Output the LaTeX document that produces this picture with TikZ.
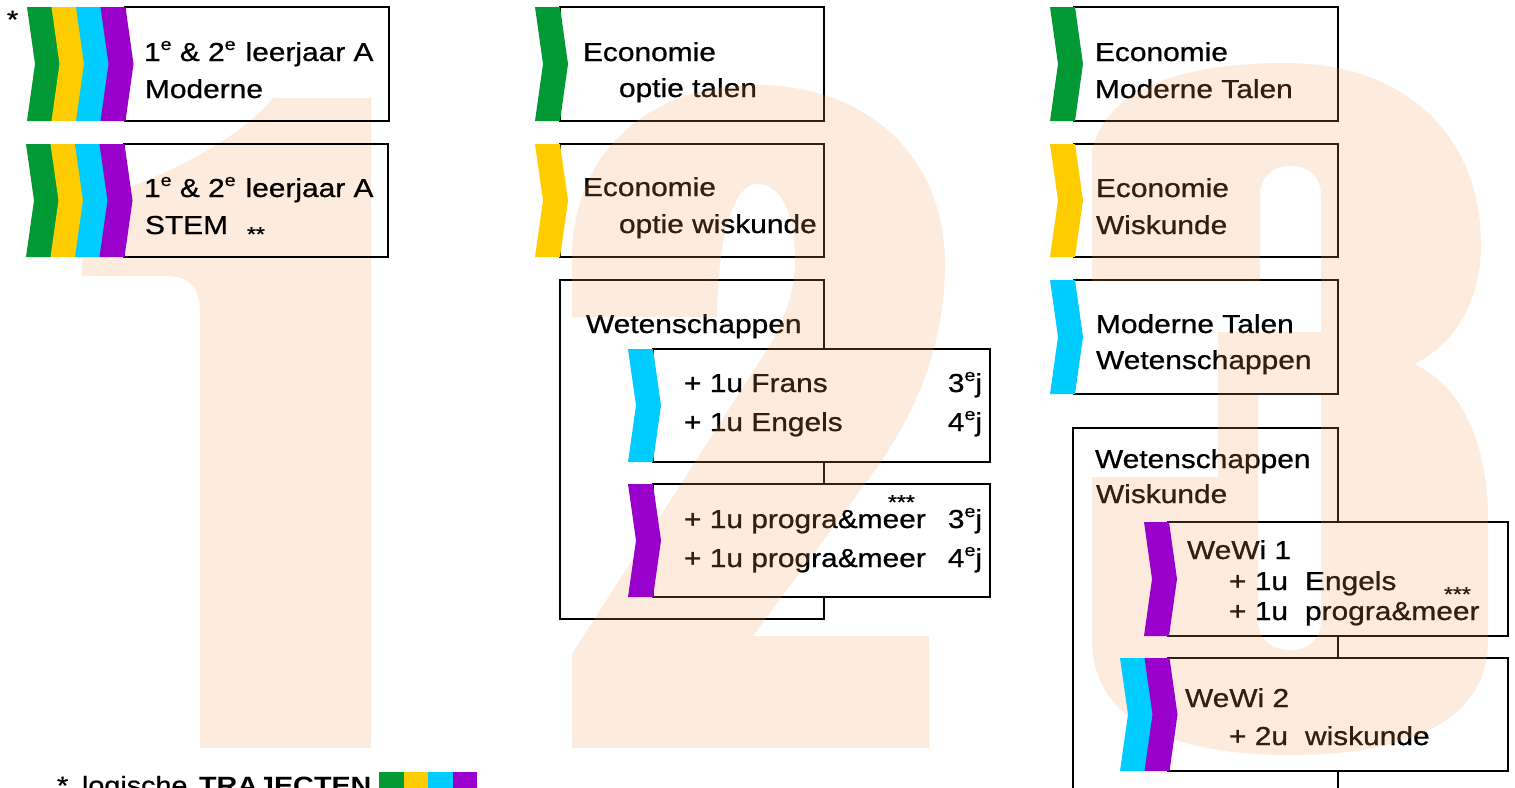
\documentclass[tikz,border=0pt]{standalone}
\usepackage{fontspec}
\setmainfont{Liberation Sans}[FakeStretch=1.15, UprightFeatures={FakeBold=0.8}]
\definecolor{cgreen}{RGB}{0,153,51}
\definecolor{cyellow}{RGB}{255,204,0}
\definecolor{ccyan}{RGB}{0,204,255}
\definecolor{cpurple}{RGB}{153,0,204}
\definecolor{peach}{RGB}{253,235,221}
\definecolor{peachink}{RGB}{245,155,85}
\newcommand{\sups}[1]{\raisebox{11pt}{\fontsize{17}{17}\selectfont #1}}
\newcommand{\chev}[4]{\fill[#4] (#1,#2) -- (#1+25,#2) -- (#1+33,{(#2+#3)/2}) -- (#1+25,#3) -- (#1,#3) -- (#1+8,{(#2+#3)/2}) -- cycle;}
\newcommand{\bx}[5]{\node[box, minimum width=#4pt, minimum height=#5pt] (#1) at (#2,#3) {};}
\begin{document}
\begin{tikzpicture}[x=1pt,y=-1pt,
  box/.style={draw=black, line width=1.2pt, fill=white, anchor=north west, inner sep=0pt, outer sep=0pt},
  txt/.style={anchor=base west, inner sep=0pt, outer sep=0pt, font=\fontsize{26}{30}\selectfont},
  txtr/.style={txt, anchor=base east},
  foot/.style={txt, font=\fontsize{25}{30}\selectfont},
  bold/.style={txt, font=\fontsize{25}{30}\selectfont\bfseries},
  stars/.style={anchor=base west, inner sep=0pt, outer sep=0pt, font=\fontsize{20}{20}\selectfont},
  overlay digit/.style={fill=peachink, fill opacity=0.2}
]
\useasboundingbox (0,0) rectangle (1515,787);
\fill[white] (0,0) rectangle (1515,787);
\clip (0,0) rectangle (1515,787);

% big "1" (behind)
\fill[peach] (371,98) -- (371,748) -- (200,748) -- (200,312) .. controls (200,288) and (190,276) .. (166,276) -- (82,276) -- (82,205) .. controls (140,185) and (230,150) .. (273,98) -- cycle;

% column 1
\node[box, fill=none, minimum width=264pt, minimum height=114pt] (a1) at (125,7) {};
\node[box, fill=none, minimum width=264pt, minimum height=113pt] (a2) at (124,144) {};
\chev{27}{7}{121}{cgreen}\chev{51.5}{7}{121}{cyellow}\chev{76}{7}{121}{ccyan}\chev{100.5}{7}{121}{cpurple}
\chev{26}{144}{257}{cgreen}\chev{50.5}{144}{257}{cyellow}\chev{75}{144}{257}{ccyan}\chev{99.5}{144}{257}{cpurple}
\node[txt, font=\fontsize{25}{30}\selectfont] (star0) at (7,28) {*};
\node[txt] (a1l1) at (144,61) {1\sups{e} \& 2\sups{e}\hspace{10pt}leerjaar A};
\node[txt] (a1l2) at (145,98) {Moderne};
\node[txt] (a2l1) at (144,197) {1\sups{e} \& 2\sups{e}\hspace{10pt}leerjaar A};
\node[txt] (a2l2) at (145,234) {STEM};
\node[stars] (a2s) at (247,241) {**};

% column 2
\bx{w}{560}{280}{264}{339}
\bx{e1}{560}{7}{264}{114}
\bx{e2}{560}{144}{264}{113}
\bx{f}{653}{349}{337}{113}
\bx{g}{653}{484}{337}{113}
\node[txt] (e1l1) at (583,61) {Economie};
\node[txt] (e1l2) at (619,97) {optie talen};
\node[txt] (e2l1) at (583,196) {Economie};
\node[txt] (e2l2) at (619,233) {optie wiskunde};
\node[txt] (wl1) at (586,333) {Wetenschappen};
\node[txt] (fl1) at (684,392) {+ 1u Frans};
\node[txt] (fl2) at (684,431) {+ 1u Engels};
\node[txtr] (fr1) at (982,392) {3\sups{e}j};
\node[txtr] (fr2) at (982,431) {4\sups{e}j};
\node[txt] (gl1) at (684,528) {+ 1u progra\&meer};
\node[txt] (gl2) at (684,567) {+ 1u progra\&meer};
\node[stars] (gs) at (888,509) {***};
\node[txtr] (gr1) at (982,528) {3\sups{e}j};
\node[txtr] (gr2) at (982,567) {4\sups{e}j};

% column 3
\bx{t1}{1074}{7}{264}{114}
\bx{t2}{1074}{144}{264}{113}
\bx{t3}{1074}{280}{264}{114}
\bx{ww}{1073}{428}{265}{380}
\bx{h1}{1168}{522}{340}{114}
\bx{h2}{1168}{658}{340}{113}
\node[txt] (t1l1) at (1095,61) {Economie};
\node[txt] (t1l2) at (1095,98) {Moderne Talen};
\node[txt] (t2l1) at (1096,197) {Economie};
\node[txt] (t2l2) at (1096,234) {Wiskunde};
\node[txt] (t3l1) at (1096,333) {Moderne Talen};
\node[txt] (t3l2) at (1096,369) {Wetenschappen};
\node[txt] (wwl1) at (1095,468) {Wetenschappen};
\node[txt] (wwl2) at (1096,503) {Wiskunde};
\node[txt] (h1l1) at (1187,559) {WeWi 1};
\node[txt] (h1l2) at (1229,590) {+ 1u\hspace{17pt}Engels};
\node[txt] (h1l3) at (1229,620) {+ 1u\hspace{17pt}progra\&meer};
\node[stars] (h1s) at (1444,601) {***};
\node[txt] (h2l1) at (1185,707) {WeWi 2};
\node[txt] (h2l2) at (1229,745) {+ 2u\hspace{17pt}wiskunde};

% footer
\node[foot] (fs) at (57,794) {*};
\node[foot] (fl) at (82,794) {logische};
\node[bold] (ft) at (199,794) {TRAJECTEN};
\fill[cgreen] (379,772) rectangle (404,800);
\fill[cyellow] (403.5,772) rectangle (428.5,800);
\fill[ccyan] (428,772) rectangle (453,800);
\fill[cpurple] (452.5,772) rectangle (477,800);

% big "2" (overlay)
\fill[overlay digit] (572,748) -- (929,748) -- (929,636) -- (753,636) -- (873,473) .. controls (915,415) and (945,345) .. (945,265) .. controls (945,150) and (860,85) .. (757,85) .. controls (650,85) and (575,150) .. (572,253) -- (572,317) -- (717,317) .. controls (718,230) and (735,184) .. (757,184) .. controls (782,184) and (795,215) .. (795,260) .. controls (795,290) and (785,320) .. (770,345) -- (572,654) -- cycle;

% big "3" (overlay)
\fill[overlay digit, even odd rule] (1092,281) -- (1092,151) .. controls (1105,90) and (1180,63) .. (1285,63) .. controls (1410,63) and (1481,140) .. (1481,245) .. controls (1481,300) and (1455,345) .. (1414,364) .. controls (1460,385) and (1488,440) .. (1488,520) -- (1488,640) .. controls (1488,720) and (1410,755) .. (1290,755) .. controls (1170,755) and (1092,720) .. (1092,640) -- (1092,477) -- (1218,477) -- (1218,332) -- (1321,332) -- (1321,196) .. controls (1321,176) and (1308,166) .. (1290.5,166) .. controls (1273,166) and (1260,176) .. (1260,196) -- (1260,281) -- cycle
 (1258,395) -- (1321,395) -- (1321,620) .. controls (1321,640) and (1308,650) .. (1290,650) .. controls (1272,650) and (1258,640) .. (1258,620) -- cycle;

% chevrons of columns 2 and 3 (on top)
\chev{535}{7}{121}{cgreen}
\chev{535}{144}{257}{cyellow}
\chev{628}{349}{462}{ccyan}
\chev{628}{484}{597}{cpurple}
\chev{1050}{7}{121}{cgreen}
\chev{1050}{144}{257}{cyellow}
\chev{1050}{280}{394}{ccyan}
\chev{1144}{522}{636}{cpurple}
\chev{1120}{658}{771}{ccyan}\chev{1144.5}{658}{771}{cpurple}
\end{tikzpicture}
\end{document}
